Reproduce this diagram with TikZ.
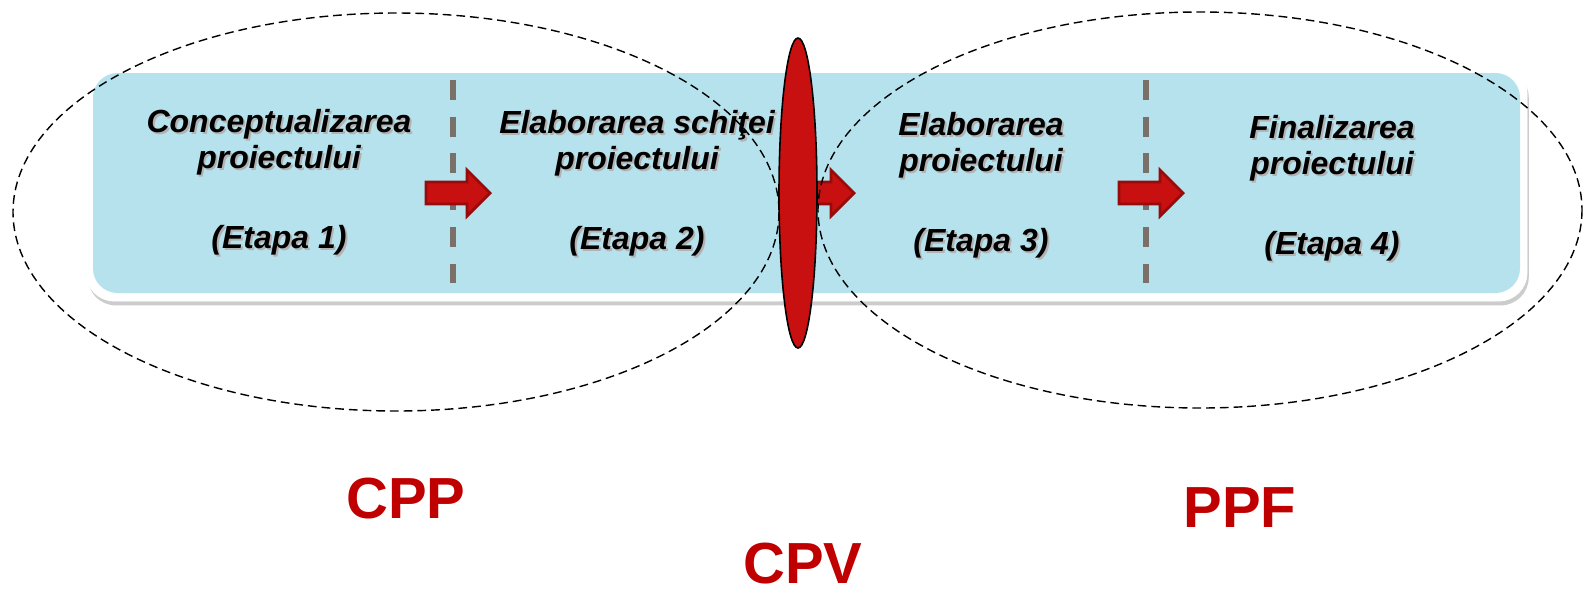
\documentclass[tikz,border=0pt]{standalone}
\usepackage{fontspec}
\setmainfont{Liberation Sans}
\usetikzlibrary{shadows}

\definecolor{bandblue}{RGB}{181,226,236}
\definecolor{sepgray}{RGB}{122,112,104}
\definecolor{ovalred}{RGB}{200,16,16}
\definecolor{arrowdark}{RGB}{150,12,12}
\definecolor{labelred}{RGB}{192,0,0}

% text cu umbra
\newcommand\shd[1]{\makebox[0pt][l]{\raisebox{-1.3pt}{\hspace{1.1pt}\textcolor{black!30}{#1}}}#1}

\tikzset{
  etapa/.style={font=\fontsize{18.2}{20.4}\selectfont\bfseries\itshape, anchor=base, inner sep=0pt},
  faza/.style={font=\fontsize{33}{36}\selectfont\bfseries, text=labelred, anchor=base, inner sep=0pt},
  sep/.style={sepgray, line width=2.9pt, dash pattern=on 11.3pt off 9.6pt},
  oval/.style={black, line width=.8pt, dash pattern=on 5pt off 2.8pt},
  redarrow/.pic={\draw[arrowdark, fill=ovalred, line width=1.6pt] (0,-11) -- (41,-11) -- (41,-23) -- (64,0) -- (41,23) -- (41,11) -- (0,11) -- cycle;}
}

\begin{document}
\begin{tikzpicture}[x=0.02cm,y=-0.02cm]
			\useasboundingbox (0,0) rectangle (1583,593);
			% banda
			\draw[white, fill=white, rounded corners=16pt, drop shadow={shadow xshift=1pt, shadow yshift=-2.5pt, opacity=.4}] (86,65) rectangle (1527,301);
			\fill[bandblue, rounded corners=14pt] (93,73) rectangle (1520,293);
			% separatoare
			\draw[sep] (453,80) -- (453,290);
			\draw[sep] (1146,80) -- (1146,290);
			% sageti
			\foreach \x in {426,790,1119}
				\pic at (\x,193) {redarrow};
			% etape (base = ultima linie)
			\foreach \n/\x/\y/\la in {1/279/132/Conceptualizarea, 2/637/133/{Elaborarea schiţei}, 3/981/135/Elaborarea, 4/1332/138/Finalizarea}{
				\node[etapa, align=center] (t\n) at (\x,\y+36) {\shd{\la}\\\shd{proiectului}};
				\node[etapa] (e\n) at (\x,\y+116) {\shd{(Etapa \n)}};
			}
			% ovale
			\draw[oval] (396,212) ellipse [x radius=383, y radius=199];
			\draw[oval] (1200,210) ellipse [x radius=382, y radius=198];
			\draw[black, fill=ovalred, line width=.9pt] (798,193) ellipse [x radius=19, y radius=155];
			% faze
			\node[faza] (cpp) at (406,518) {CPP};
			\node[faza] (cpv) at (803,583) {CPV};
			\node[faza] (ppf) at (1240,527) {PPF};
		\end{tikzpicture}
\end{document}
